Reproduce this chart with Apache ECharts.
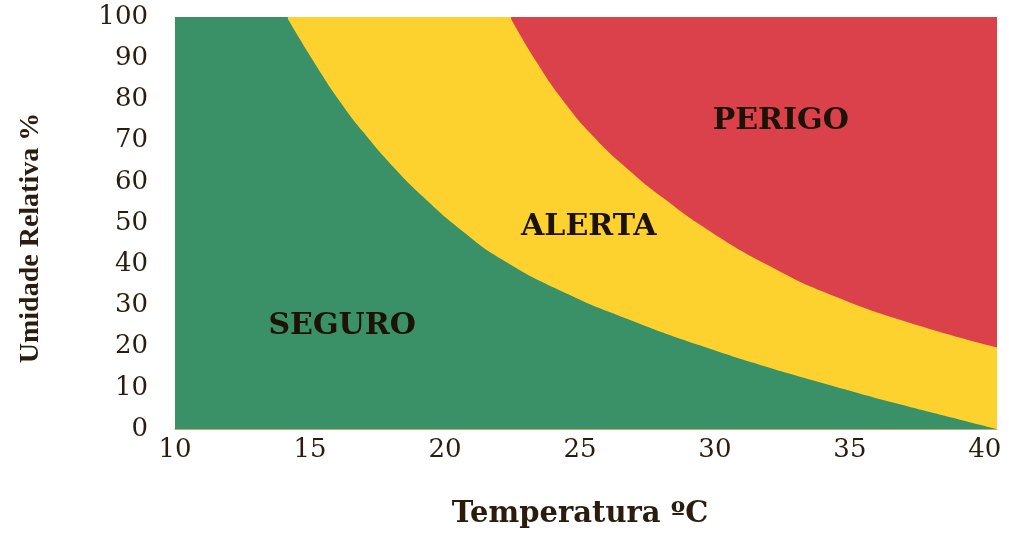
<!DOCTYPE html>
<html><head><meta charset="utf-8">
<script src="https://cdn.jsdelivr.net/npm/echarts@6/dist/echarts.min.js"></script>
<style>html,body{margin:0;padding:0;background:#fff}#c{width:1009px;height:534px}</style>
</head><body><div id="c"></div>
<script>
// Tick labels
const xTicks = [10, 15, 20, 25, 30, 35, 40];
const yTicks = [0, 10, 20, 30, 40, 50, 60, 70, 80, 90, 100];

// Upper limit of the safe (green) zone: temperature (ºC) vs relative humidity (%)
// (for lower temperatures than the first point the zone reaches 100 %)
const safeLimitT  = [14.14, 15.25, 16.11, 16.98, 18.09, 19.2, 20.56, 22.1, 24.4, 27.0, 29.44, 31.9, 34.4, 36.85, 39.3, 40.45];
const safeLimitRH = [100, 88, 79.5, 72, 63.6, 56.3, 48.5, 41.2, 33.2, 26.1, 20.3, 15.1, 10.4, 6.0, 1.9, 0];

// Upper limit of the alert (yellow) zone
const alertLimitT  = [22.41, 23.4, 24.4, 25.5, 26.7, 28.1, 29.7, 31.9, 34.4, 37.7, 40.45];
const alertLimitRH = [100, 89, 79.5, 71, 63.5, 56, 48.5, 40, 32.3, 24.8, 19.8];

// Top of the danger (red) zone
const dangerTopT  = [10, 40.45];
const dangerTopRH = [100, 100];

// Zone labels
const zoneNames   = ['SEGURO', 'ALERTA', 'PERIGO'];
const zoneLabelT  = [16.19, 25.33, 32.44];
const zoneLabelRH = [24.9, 48.9, 74.6];

const X_MIN = 10, X_MAX = 40.45, Y_MAX = 100;
const zip = (a, b) => a.map((v, i) => [v, b[i]]);
const SERIF = '"Liberation Serif", serif';
const WIDE = '"DejaVu Serif", serif';
const TXT = '#2b1d0e';
const GREEN = '#3a9167', YELLOW = '#fdd22f', RED = '#db414b';

const chart = echarts.init(document.getElementById('c'), null, {renderer: 'canvas'});

function area(name, data, color, z, smooth) {
  return {
    name, type: 'line', data, z,
    smooth: smooth ? 0.5 : false,
    showSymbol: false, silent: true,
    lineStyle: {width: 0},
    areaStyle: {color, opacity: 1}
  };
}
// full-height part of a zone, left of where its limit curve starts
function flatPart(name, startT, color, z) {
  return area(name, [[X_MIN, Y_MAX], [startT + 0.04, Y_MAX]], color, z, false);
}

chart.setOption({
  animation: false,
  backgroundColor: '#fff',
  grid: {left: 175, right: 12, top: 17, bottom: 100, containLabel: false},
  xAxis: {
    type: 'value', min: X_MIN, max: X_MAX, interval: 5,
    name: 'Temperatura ºC', nameLocation: 'middle', nameGap: 71,
    nameTextStyle: {fontFamily: WIDE, fontWeight: 'bold', fontSize: 29, color: TXT, padding: [0, 12, 0, 0]},
    axisLine: {show: true, lineStyle: {color: '#b9ad7c', width: 1}},
    axisTick: {show: false},
    splitLine: {show: false},
    axisLabel: {
      showMaxLabel: false, margin: 8,
      fontFamily: WIDE, fontSize: 26, color: TXT,
      formatter: v => (xTicks.includes(v) ? String(v) : '')
    }
  },
  yAxis: {
    type: 'value', min: 0, max: Y_MAX, interval: 10,
    name: 'Umidade Relativa %', nameLocation: 'middle', nameGap: 130, nameRotate: 90,
    nameTextStyle: {fontFamily: SERIF, fontWeight: 'bold', fontSize: 28, color: TXT, padding: [0, 30, 0, 0]},
    axisLine: {show: false}, axisTick: {show: false}, splitLine: {show: false},
    axisLabel: {
      margin: 27, fontFamily: WIDE, fontSize: 26, color: TXT,
      formatter: v => (yTicks.includes(v) ? String(v) : '')
    }
  },
  series: [
    area('PERIGO', zip(dangerTopT, dangerTopRH), RED, 1, false),
    flatPart('ALERTA', alertLimitT[0], YELLOW, 2),
    area('ALERTA', zip(alertLimitT, alertLimitRH), YELLOW, 2, true),
    flatPart('SEGURO', safeLimitT[0], GREEN, 3),
    area('SEGURO', zip(safeLimitT, safeLimitRH), GREEN, 3, true),
    {
      type: 'scatter', z: 10, silent: true, symbolSize: 0,
      itemStyle: {color: '#1c1206', opacity: 1},
      data: zoneNames.map((n, i) => ({name: n, value: [zoneLabelT[i], zoneLabelRH[i]]})),
      label: {
        show: true, position: 'inside', formatter: p => p.name, opacity: 1,
        fontFamily: WIDE, fontWeight: 'bold', fontSize: 30, color: '#1c1206'
      }
    }
  ]
});
</script></body></html>
